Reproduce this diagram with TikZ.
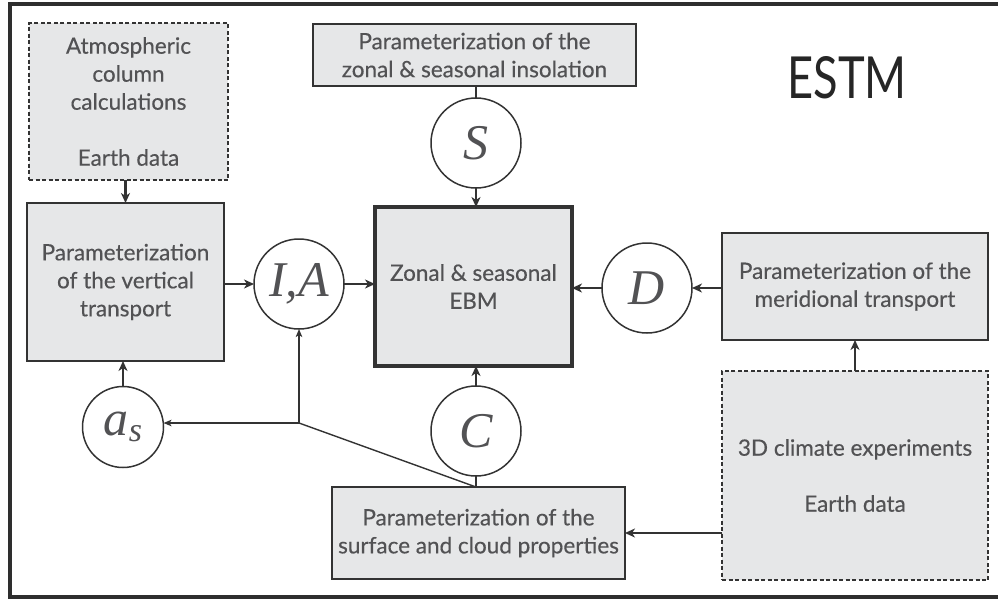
\documentclass[tikz,border=0pt]{standalone}
\usepackage{fontspec}
\setmainfont{Lato}[FakeBold=0.4]
\newfontfamily\titlefont{Lato}
\newfontfamily\symfont{Liberation Serif}
\usetikzlibrary{arrows.meta}

\definecolor{boxgray}{HTML}{E6E7E8}
\definecolor{edgegray}{HTML}{333333}
\definecolor{textgray}{HTML}{525254}
\definecolor{framegray}{HTML}{2E2E2E}

\tikzset{
  x=1pt, y=-1pt,
  every node/.style={inner sep=0pt, outer sep=0pt},
  box/.style={draw=edgegray, fill=boxgray, line width=1.5pt, align=center,
    text=textgray, font=\fontsize{22.5}{28}\selectfont},
  dashbox/.style={box, dash pattern=on 4pt off 2.5pt},
  mainbox/.style={box, line width=3.5pt},
  var/.style={circle, draw=edgegray, fill=white, line width=1.5pt,
    text=textgray, font=\symfont\itshape\fontsize{50}{50}\selectfont},
  feed/.style={draw=edgegray, line width=2.3pt,
    -{Stealth[length=10pt, width=9pt, inset=3pt]}},
  link/.style={draw=edgegray, line width=2.3pt},
  thinfeed/.style={draw=edgegray, line width=1.4pt,
    -{Stealth[length=8pt, width=6.5pt, inset=2pt]}},
  thinlink/.style={draw=edgegray, line width=1.4pt},
}

\begin{document}
\begin{tikzpicture}
\useasboundingbox (0,0) rectangle (998,603);
\fill[white] (0,0) rectangle (998,603);

% outer frame (runs off the right edge)
\draw[framegray, line width=3.5pt] (10,4) rectangle (1010,597);

% title
\node[text=black!85, font=\titlefont\fontsize{58}{58}\selectfont] (title) at (847,78)
  {\scalebox{0.78}[1]{ESTM}};

% boxes
\node[dashbox, minimum width=199pt, minimum height=157pt] (atm) at (128.5,101.5)
  {Atmospheric\\column\\calculations\\[28pt]Earth data};
\node[box, minimum width=197pt, minimum height=158pt] (vert) at (125.5,282)
  {Parameterization\\of the vertical\\transport};
\node[box, minimum width=323pt, minimum height=62pt] (insol) at (474.5,55)
  {Parameterization of the\\zonal \& seasonal insolation};
\node[mainbox, minimum width=197pt, minimum height=159pt] (ebm) at (473.5,286.5)
  {Zonal \& seasonal\\EBM};
\node[box, minimum width=266pt, minimum height=107pt] (merid) at (855,286.5)
  {Parameterization of the\\meridional transport};
\node[dashbox, minimum width=266pt, minimum height=209pt] (clim) at (855,475.5)
  {3D climate experiments\\[28pt]Earth data};
\node[box, minimum width=293pt, minimum height=92pt] (surf) at (478.5,533)
  {Parameterization of the\\surface and cloud properties};

% variables
\node[var, minimum size=90pt] (ia) at (299,284) {I,A};
\node[var, minimum size=90pt] (s) at (476,143) {S};
\node[var, minimum size=90pt] (d) at (647,288) {D};
\node[var, minimum size=90pt] (c) at (476,431) {C};
\node[var, minimum size=81pt] (as) at (123,427)
  {a\raisebox{-6pt}{\fontsize{34}{34}\selectfont s}};

\coordinate (fork) at (299,423);
\coordinate (surftop) at (476,487);

% connectors
\draw[feed] (atm.south -| vert.north) -- (vert.north);
\draw[feed] (vert.east |- ia.west) -- (ia.west);
\draw[feed] (ia.east) -- (ebm.west |- ia.east);
\draw[link] (insol.south -| s.north) -- (s.north);
\draw[feed] (s.south) -- (ebm.north -| s.south);
\draw[feed] (merid.west |- d.east) -- (d.east);
\draw[feed] (d.west) -- (ebm.east |- d.west);
\draw[feed] (clim.north) -- (merid.south);
\draw[feed] (clim.west |- surf.east) -- (surf.east);
\draw[link] (surftop) -- (c.south);
\draw[feed] (c.north) -- (ebm.south -| c.north);
\draw[feed] (as.north) -- (vert.south -| as.north);
\draw[thinlink] (surftop) -- (fork);
\draw[thinfeed] (fork) -- (as.east |- fork);
\draw[thinfeed] (fork) -- (ia.south);
\end{tikzpicture}
\end{document}
